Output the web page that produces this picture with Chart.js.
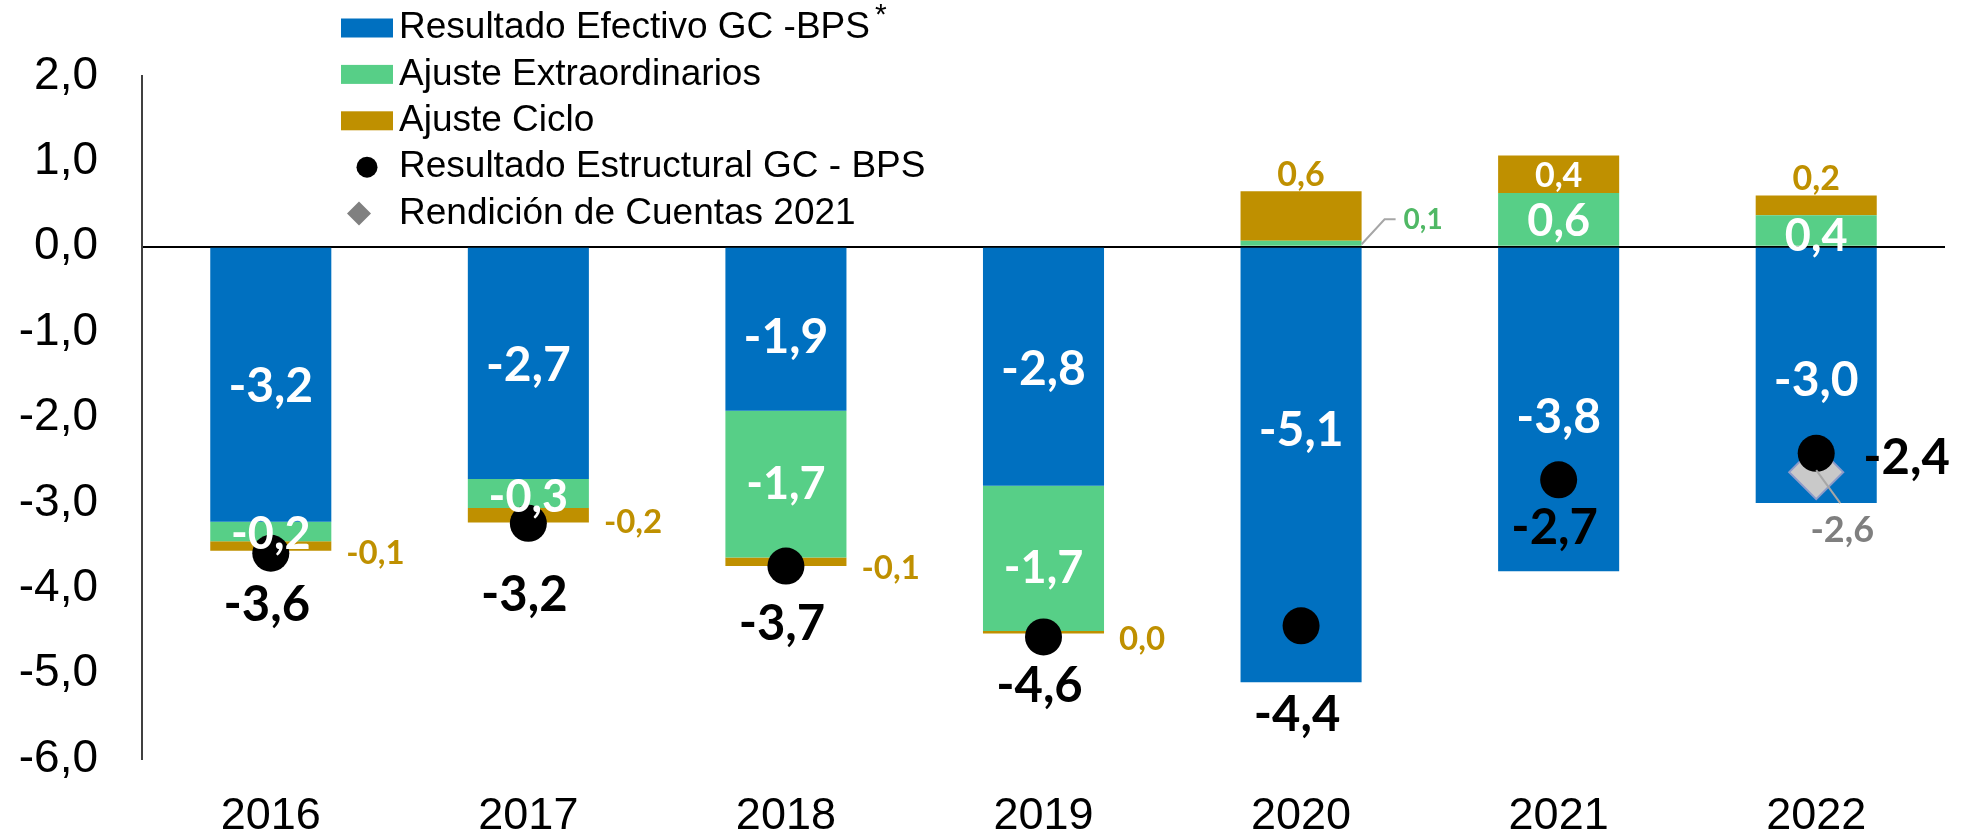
<!DOCTYPE html>
<html lang="es">
<head>
<meta charset="utf-8">
<title>Resultado Efectivo y Estructural GC-BPS</title>
<script src="https://cdn.jsdelivr.net/npm/chart.js@4.4.1/dist/chart.umd.min.js"></script>
<style>
  html, body { margin: 0; padding: 0; background: #fff; }
  #chart { display: block; }
</style>
</head>
<body>
<canvas id="chart" width="1974" height="839"></canvas>
<script>
const years = ['2016', '2017', '2018', '2019', '2020', '2021', '2022'];
const efectivo = [-3.22, -2.72, -1.92, -2.8, -5.1, -3.8, -3.0];
const extraordinarios = [-0.23, -0.34, -1.72, -1.7, 0.07, 0.63, 0.37];
const ciclo = [-0.11, -0.17, -0.1, -0.03, 0.58, 0.44, 0.23];
const estructural = [-3.59, -3.24, -3.74, -4.57, -4.44, -2.73, -2.42];
const rendicion = [null, null, null, null, null, null, -2.64];
const yMin = -6, yMax = 2, yStep = 1;

// where the value labels go (pixels, kept apart from the data)
const efectivoShift = [2, 2, 8, 3, -34, 8, 5];
const extraShift = [3, 4, 0, 10, 0, 2, 6];
const cicloPlace = ['right', 'right', 'right', 'right', 'above', 'inside', 'above'];
const estructuralDrop = [52, 72, 58, 49, 89, 48, null];

const BLUE = '#0070C0', GREEN = '#57CF87', GOLD = '#BF9000';

const fmt = v => (Math.abs(v) < 0.05 ? 0 : v).toFixed(1).replace('.', ',');

Chart.defaults.font.family = '"Liberation Sans", Arial, sans-serif';
Chart.defaults.color = '#000';

function put(ctx, txt, x, y, size, color, align) {
  ctx.save();
  ctx.font = `700 ${size}px Lato, "Open Sans", sans-serif`;
  ctx.fillStyle = color;
  ctx.textAlign = align || 'center';
  ctx.textBaseline = 'middle';
  ctx.fillText(txt, x, y);
  ctx.restore();
}

function leader(ctx, pts) {
  ctx.save();
  ctx.strokeStyle = '#a6a6a6';
  ctx.lineWidth = 2;
  ctx.beginPath();
  pts.forEach((p, i) => i ? ctx.lineTo(p[0], p[1]) : ctx.moveTo(p[0], p[1]));
  ctx.stroke();
  ctx.restore();
}

const valueLabels = {
  id: 'valueLabels',
  afterDraw(chart) {
    const ctx = chart.ctx;
    const el = (d, i) => chart.getDatasetMeta(d).data[i];

    efectivo.forEach((v, i) => {
      const b = el(0, i);
      put(ctx, fmt(v), b.x, (b.y + b.base) / 2 + efectivoShift[i], 48, '#fff');
    });

    extraordinarios.forEach((v, i) => {
      const b = el(1, i);
      const mid = (b.y + b.base) / 2;
      if (Math.abs(b.y - b.base) < 12) {
        // too thin for the label: call it out to the right
        const right = b.x + b.width / 2;
        leader(ctx, [[right, mid + 1], [right + 23, mid - 24], [right + 34, mid - 24]]);
        put(ctx, fmt(v), right + 42, mid - 23, 28, '#50B865', 'left');
      } else {
        put(ctx, fmt(v), b.x, mid + extraShift[i], 45, '#fff');
      }
    });

    ciclo.forEach((v, i) => {
      const b = el(2, i);
      const mid = (b.y + b.base) / 2;
      if (cicloPlace[i] === 'right') put(ctx, fmt(v), b.x + b.width / 2 + 15, mid + 7, 33, GOLD, 'left');
      else if (cicloPlace[i] === 'above') put(ctx, fmt(v), b.x, b.y - 16, 34, GOLD);
      else put(ctx, fmt(v), b.x, mid + 2, 34, '#fff');
    });

    estructural.forEach((v, i) => {
      const p = el(3, i);
      if (estructuralDrop[i] !== null) put(ctx, fmt(v), p.x - 4, p.y + estructuralDrop[i], 49, '#000');
      else put(ctx, fmt(v), p.x + 47, p.y + 5, 49, '#000', 'left');
    });

    rendicion.forEach((v, i) => {
      if (v === null) return;
      const p = el(4, i);
      leader(ctx, [[p.x, p.y - 2], [p.x + 24, p.y + 31]]);
      put(ctx, fmt(v), p.x + 26, p.y + 58, 36, '#7f7f7f');
    });
  }
};

const legendBox = {
  id: 'legendBox',
  afterDraw(chart) {
    const ctx = chart.ctx;
    const boxX = 341, textX = 399;
    chart.data.datasets.forEach((ds, i) => {
      const y = 28 + i * 46.4;
      ctx.save();
      if (ds.pointStyle === 'rectRot') {
        ctx.fillStyle = '#808080';
        ctx.beginPath();
        ctx.moveTo(359, y - 12); ctx.lineTo(371, y); ctx.lineTo(359, y + 12); ctx.lineTo(347, y);
        ctx.closePath();
        ctx.fill();
      } else if (ds.type === 'line') {
        ctx.fillStyle = '#000';
        ctx.beginPath();
        ctx.arc(367, y, 10.5, 0, Math.PI * 2);
        ctx.fill();
      } else {
        ctx.fillStyle = ds.backgroundColor;
        ctx.fillRect(boxX, y - 9.5, 52, 19);
      }
      let label = ds.label, sup = '';
      if (label.endsWith('*')) { sup = '*'; label = label.slice(0, -1); }
      ctx.fillStyle = '#000';
      ctx.textBaseline = 'middle';
      ctx.font = '37px "Liberation Sans", Arial, sans-serif';
      ctx.fillText(label, textX, y);
      if (sup) {
        const w = ctx.measureText(label).width;
        ctx.font = '30px "Liberation Sans", Arial, sans-serif';
        ctx.fillText(sup, textX + w + 5, y - 12);
      }
      ctx.restore();
    });
  }
};

new Chart(document.getElementById('chart'), {
  type: 'bar',
  data: {
    labels: years,
    datasets: [
      { label: 'Resultado Efectivo GC -BPS*', data: efectivo, backgroundColor: BLUE, order: 2 },
      { label: 'Ajuste Extraordinarios', data: extraordinarios, backgroundColor: GREEN, order: 2 },
      { label: 'Ajuste Ciclo', data: ciclo, backgroundColor: GOLD, order: 2 },
      {
        type: 'line', label: 'Resultado Estructural GC - BPS', data: estructural, stack: 'estructural',
        showLine: false, pointRadius: 18.5, pointBackgroundColor: '#000', pointBorderWidth: 0, order: 0
      },
      {
        type: 'line', label: 'Rendición de Cuentas 2021', data: rendicion, stack: 'rendicion',
        showLine: false, pointStyle: 'rectRot', pointRadius: 27, pointBackgroundColor: '#c9c9c9',
        pointBorderColor: '#8d9bc9', pointBorderWidth: 2, order: 1
      }
    ]
  },
  options: {
    responsive: false,
    animation: false,
    layout: { padding: { top: 76, right: 16, left: 0, bottom: 0 } },
    datasets: { bar: { barPercentage: 0.47, categoryPercentage: 1 } },
    scales: {
      x: {
        stacked: true,
        grid: { display: false, drawTicks: false },
        border: { display: false },
        ticks: { padding: 31, font: { size: 45 } },
        afterFit: s => { s.height = 80; }
      },
      y: {
        stacked: true,
        min: yMin,
        max: yMax,
        z: 1,
        ticks: { stepSize: yStep, padding: 44, font: { size: 46 }, callback: v => fmt(v) },
        grid: {
          drawTicks: false,
          lineWidth: 2,
          color: c => (c.tick && c.tick.value === 0 ? '#000' : 'rgba(0,0,0,0)')
        },
        border: { display: true, color: '#404040', width: 2 },
        afterFit: s => { s.width = 142; }
      }
    },
    plugins: { legend: { display: false }, tooltip: { enabled: false } }
  },
  plugins: [legendBox, valueLabels]
});
</script>
</body>
</html>
